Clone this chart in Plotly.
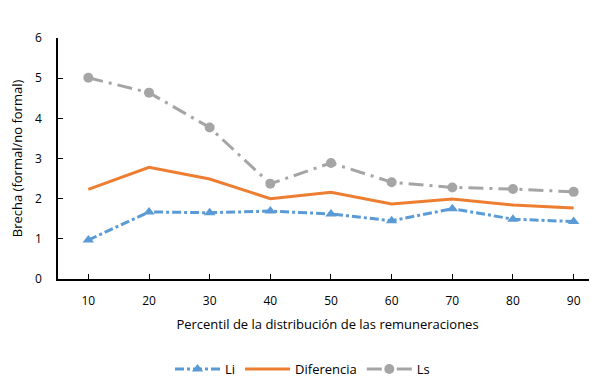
import plotly.graph_objects as go

percentiles = [10, 20, 30, 40, 50, 60, 70, 80, 90]
li = [0.97, 1.67, 1.65, 1.69, 1.62, 1.45, 1.75, 1.49, 1.43]
diferencia = [2.23, 2.78, 2.49, 2.00, 2.16, 1.87, 1.99, 1.84, 1.77]
ls = [5.01, 4.64, 3.77, 2.37, 2.89, 2.41, 2.28, 2.24, 2.17]

font_family = "Open Sans, Noto Sans, sans-serif"

fig = go.Figure()
fig.add_trace(go.Scatter(
    x=percentiles, y=li, name="Li", mode="lines+markers",
    line=dict(color="#5B9BD5", width=3, dash="dashdot"),
    marker=dict(symbol="triangle-up", size=10, color="#5B9BD5"),
))
fig.add_trace(go.Scatter(
    x=percentiles, y=diferencia, name="Diferencia", mode="lines",
    line=dict(color="#ED7D31", width=3),
))
fig.add_trace(go.Scatter(
    x=percentiles, y=ls, name="Ls", mode="lines+markers",
    line=dict(color="#A5A5A5", width=3, dash="longdashdot"),
    marker=dict(symbol="circle", size=10, color="#A5A5A5"),
))

# page body has an 8px offset; figure sized to fill the remaining window
fig.update_layout(
    width=589, height=376,
    margin=dict(l=50, r=0, t=30, b=105, autoexpand=False),
    plot_bgcolor="white", paper_bgcolor="white",
    font=dict(family=font_family, size=12, color="#000000"),
    showlegend=True,
    legend=dict(orientation="h", xref="container", x=0.5, xanchor="center",
                yref="container", y=-0.005, yanchor="bottom",
                font=dict(size=13), traceorder="normal", itemwidth=45),
    xaxis=dict(
        range=[5, 93.85], tickvals=percentiles, ticktext=[str(p) for p in percentiles],
        showline=True, linecolor="black", linewidth=1.5,
        ticks="inside", ticklen=5, tickcolor="black",
        showgrid=False, zeroline=False, ticklabelstandoff=10, automargin=False,
        title=dict(text="Percentil de la distribución de las remuneraciones",
                   font=dict(size=13), standoff=12),
    ),
    yaxis=dict(
        range=[0, 6], dtick=1, showline=True, linecolor="black", linewidth=1.5,
        ticks="inside", ticklen=5, tickcolor="black",
        showgrid=False, zeroline=False, ticklabelstandoff=12, automargin=False,
        title=dict(text="Brecha (formal/no formal)", font=dict(size=13), standoff=13),
    ),
)

fig.write_html("out.html")
